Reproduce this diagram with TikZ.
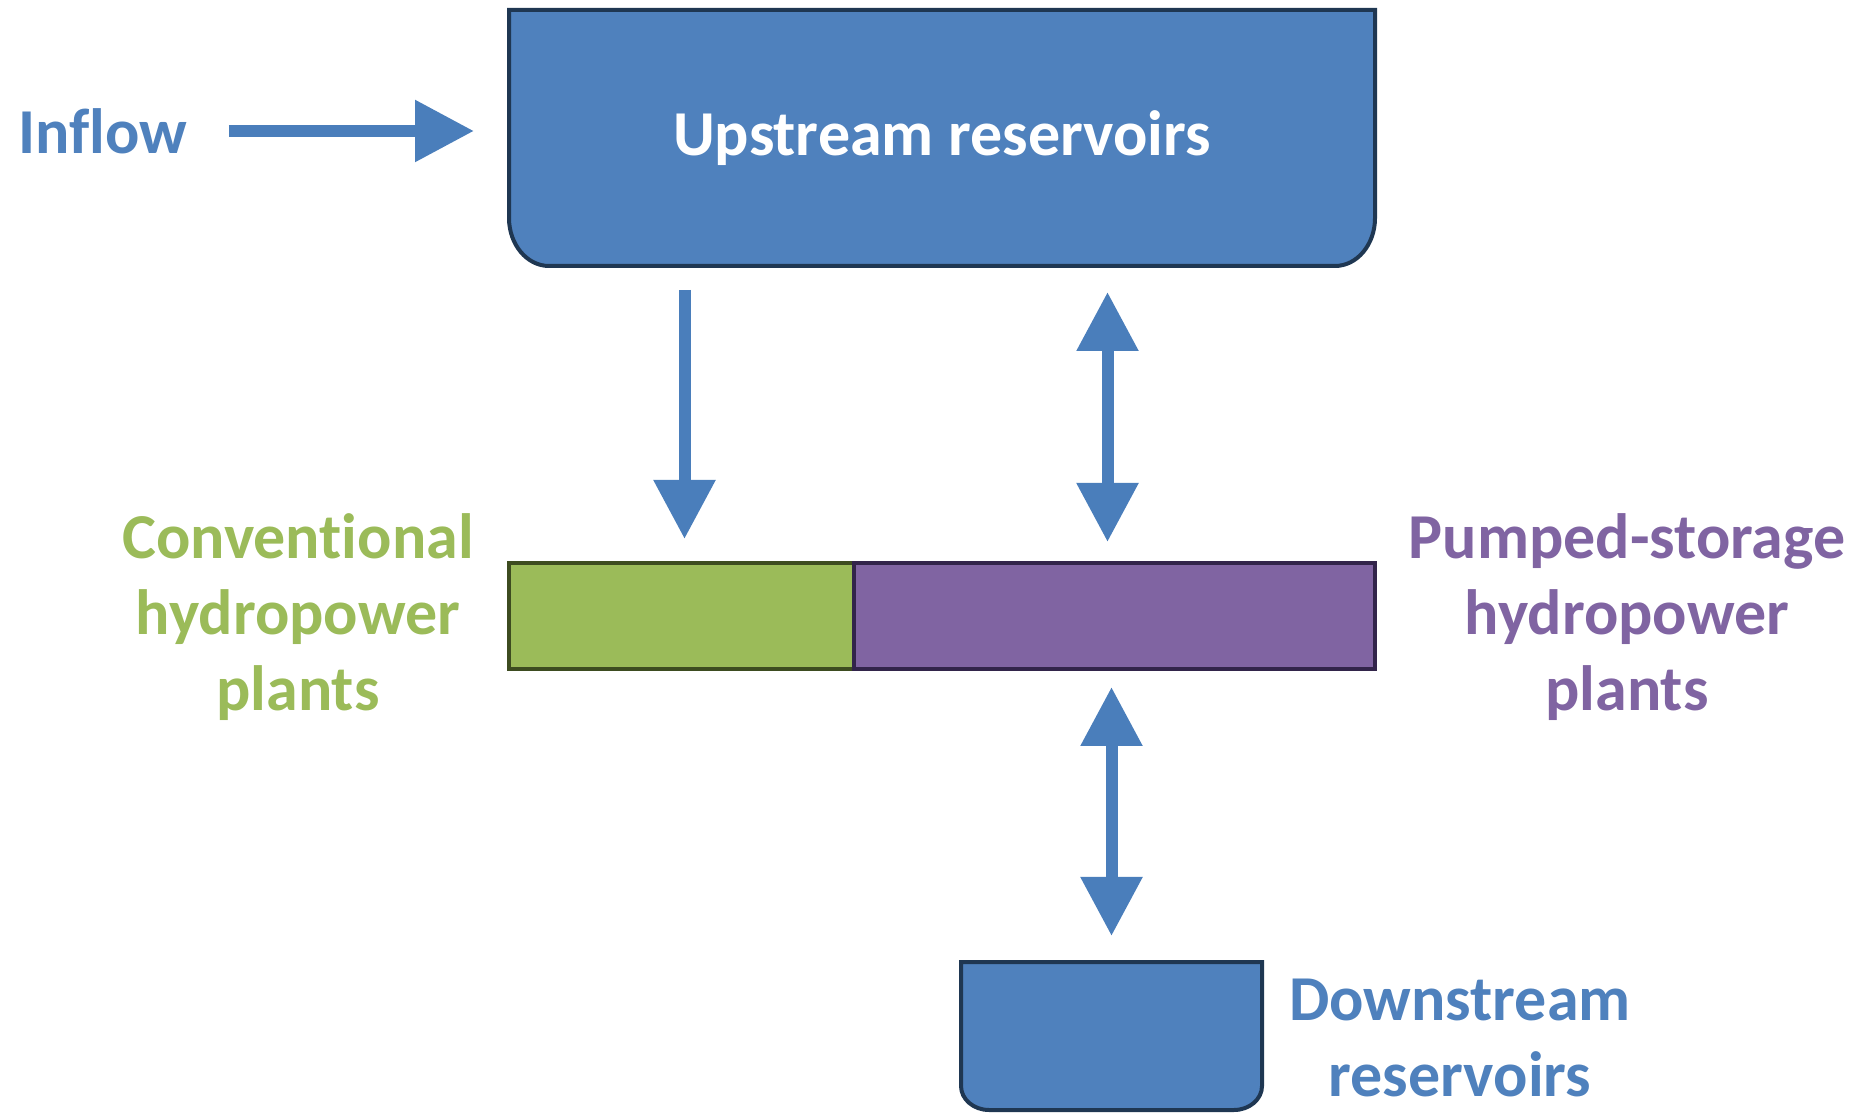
\documentclass[tikz,border=0pt]{standalone}
\usepackage{fontspec}
\setmainfont{Carlito}[RawFeature={-liga;-clig;-calt;-dlig}]
\usetikzlibrary{positioning, arrows.meta, backgrounds}

\definecolor{tankblue}{HTML}{4F81BD}
\definecolor{tankline}{HTML}{1F3752}
\definecolor{flowblue}{HTML}{4A7EBB}
\definecolor{convgreen}{HTML}{9BBB59}
\definecolor{convline}{HTML}{3D4C20}
\definecolor{pumppurple}{HTML}{8064A2}
\definecolor{pumpline}{HTML}{32244A}

\begin{document}
\begin{tikzpicture}[
        x=0.5pt, y=0.5pt,
        labeltext/.style={inner sep=0pt, align=center, font=\fontsize{32}{38}\selectfont\bfseries},
        tank/.style={inner sep=0pt, outer sep=0pt, font=\fontsize{32}{38}\selectfont\bfseries, text=white},
        tankshape/.style={fill=tankblue, draw=tankline, line width=2pt},
        plant/.style={rectangle, draw, line width=2pt, inner sep=0pt, outer sep=0pt, minimum height=53pt},
        flow/.style={-{Triangle[length=29.5pt, width=29.5pt]}, line width=6pt, color=flowblue},
        twoway/.style={{Triangle[length=29.5pt, width=29.5pt]}-{Triangle[length=29.5pt, width=29.5pt]}, line width=6pt, color=flowblue}
    ]
    \useasboundingbox (0,0) rectangle (1855,1113);
%
    % Nodes
    \node[tank, minimum width=433pt, minimum height=128pt] (upper) at (942,975) {Upstream reservoirs};
    \node[plant, fill=convgreen, draw=convline, minimum width=172.5pt] (conv) at (681.5,497) {};
    \node[plant, fill=pumppurple, draw=pumpline, minimum width=260.5pt, right=0pt of conv] (pump) {};
    \node[tank, minimum width=150.5pt, minimum height=74pt] (lower) at (1111.5,77) {};
%
    \node[labeltext, text=tankblue] (inflow) at (103,982) {Inflow};
    \node[labeltext, text=convgreen] (convlabel) at (298,495.5) {Conventional\\hydropower\\plants};
    \node[labeltext, text=pumppurple] (pumplabel) at (1627,495.5) {Pumped-storage\\hydropower\\plants};
    \node[labeltext, text=tankblue] (lowerlabel) at (1460,75) {Downstream\\reservoirs};
%
    % Reservoir outlines, rounded at the bottom
    \begin{scope}[on background layer]
        \draw[tankshape] (upper.north west) -- (upper.north east) -- ([yshift=24pt]upper.south east)
            arc[start angle=0, end angle=-90, x radius=20pt, y radius=24pt] -- ([xshift=20pt]upper.south west)
            arc[start angle=270, end angle=180, x radius=20pt, y radius=24pt] -- cycle;
        \draw[tankshape] (lower.north west) -- (lower.north east) -- ([yshift=12pt]lower.south east)
            arc[start angle=0, end angle=-90, x radius=14pt, y radius=12pt] -- ([xshift=14pt]lower.south west)
            arc[start angle=270, end angle=180, x radius=14pt, y radius=12pt] -- cycle;
    \end{scope}
%
    % Arrows
    \draw[flow, shorten <=20.5pt, shorten >=17.5pt] (inflow.east) -- (inflow.east -| upper.west);
    \draw[flow, shorten <=12pt, shorten >=12pt] ([xshift=1.5pt]upper.south -| conv) -- ([xshift=1.5pt]conv.north);
    \draw[twoway, shorten <=13pt, shorten >=10.5pt] ([xshift=-2pt]upper.south -| lower) -- ([xshift=-2pt]pump.north -| lower);
    \draw[twoway, shorten <=9pt, shorten >=13pt] (pump.south -| lower) -- (lower.north);
%
\end{tikzpicture}
\end{document}
